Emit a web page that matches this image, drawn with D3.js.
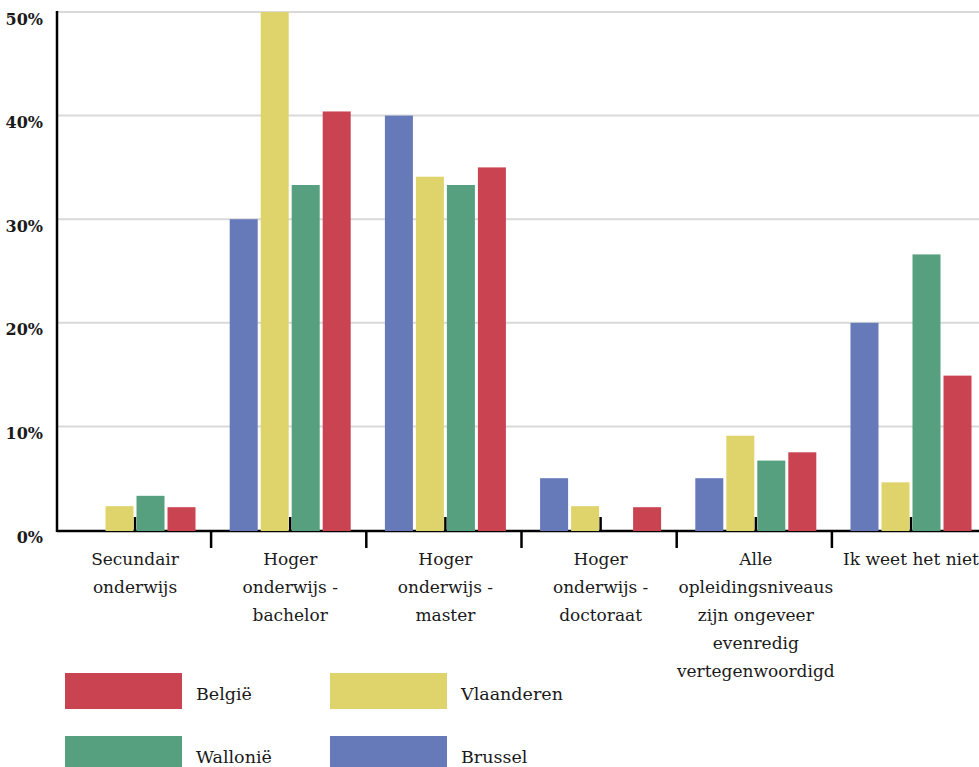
<!DOCTYPE html>
<html>
<head>
<meta charset="utf-8">
<script src="https://cdn.jsdelivr.net/npm/d3@7"></script>
<style>
  body { margin: 0; background: #fff; }
  svg text, svg tspan { font-family: "DejaVu Serif", serif; fill: #1a1a1a; }
</style>
</head>
<body>
<div id="chart"></div>
<script>
var w = 979, h = 767;

// data
var categories = ["Secundair onderwijs", "Hoger onderwijs - bachelor", "Hoger onderwijs - master",
                  "Hoger onderwijs - doctoraat", "Alle opleidingsniveaus zijn ongeveer evenredig vertegenwoordigd",
                  "Ik weet het niet"];
var categoryLines = [["Secundair", "onderwijs"],
                     ["Hoger", "onderwijs -", "bachelor"],
                     ["Hoger", "onderwijs -", "master"],
                     ["Hoger", "onderwijs -", "doctoraat"],
                     ["Alle", "opleidingsniveaus", "zijn ongeveer", "evenredig", "vertegenwoordigd"],
                     ["Ik weet het niet"]];
var series = ["Brussel", "Vlaanderen", "Wallonië", "België"];
var brussel    = [0,    30,   40,   5,   5,   20];
var vlaanderen = [2.3,  50,   34.1, 2.3, 9.1, 4.6];
var wallonie   = [3.3,  33.3, 33.3, 0,   6.7, 26.6];
var belgie     = [2.2,  40.4, 35.0, 2.2, 7.5, 14.9];
var yTicks = [0, 10, 20, 30, 40, 50];
var legendOrder = ["België", "Vlaanderen", "Wallonië", "Brussel"];

var values = {"Brussel": brussel, "Vlaanderen": vlaanderen, "Wallonië": wallonie, "België": belgie};
var color = d3.scaleOrdinal()
              .domain(series)
              .range(["#6679b8", "#dfd46c", "#569f7f", "#c94350"]);

var pad = {top: 12, left: 57, bottom: 530};
var serif = "DejaVu Serif, serif";

var svg = d3.select("#chart").append("svg")
            .attr("width", w)
            .attr("height", h);

//Scales
var x0 = d3.scaleBand()
           .domain(categories)
           .range([pad.left + 0.4, pad.left + 0.4 + 6 * 155.2]);
var x1 = d3.scaleBand()
           .domain(series)
           .range([-60.5, 60.5])
           .paddingInner(0.097);
var y = d3.scaleLinear()
          .domain([0, 50])
          .range([pad.bottom, pad.top]);

//Gridlines
svg.append("g")
   .selectAll("line")
   .data(yTicks.filter(function(d) {return d > 0;}))
   .enter()
   .append("line")
   .attr("x1", pad.left)
   .attr("x2", w)
   .attr("y1", function(d) {return y(d);})
   .attr("y2", function(d) {return y(d);})
   .attr("stroke", "#d9d9d9")
   .attr("stroke-width", 2);

//Y tick labels
svg.append("g")
   .selectAll("text")
   .data(yTicks)
   .enter()
   .append("text")
   .attr("x", 43)
   .attr("y", function(d) {return y(d) + 7;})
   .attr("text-anchor", "end")
   .attr("dominant-baseline", "central")
   .attr("font-family", serif)
   .attr("font-size", "16px")
   .attr("font-weight", "bold")
   .text(function(d) {return d + "%";});

//Axis lines
svg.append("line")
   .attr("x1", pad.left)
   .attr("x2", w)
   .attr("y1", pad.bottom + 1)
   .attr("y2", pad.bottom + 1)
   .attr("stroke", "#000")
   .attr("stroke-width", 2.5);
svg.append("line")
   .attr("x1", pad.left)
   .attr("x2", pad.left)
   .attr("y1", pad.top - 1)
   .attr("y2", pad.bottom + 2)
   .attr("stroke", "#000")
   .attr("stroke-width", 2.5);

//Category ticks: short ones at the centre, longer separators below
svg.append("g")
   .selectAll("line")
   .data(categories)
   .enter()
   .append("line")
   .attr("x1", function(d) {return x0(d) + x0.bandwidth() / 2;})
   .attr("x2", function(d) {return x0(d) + x0.bandwidth() / 2;})
   .attr("y1", pad.bottom - 13)
   .attr("y2", pad.bottom)
   .attr("stroke", "#000")
   .attr("stroke-width", 2.5);
svg.append("g")
   .selectAll("line")
   .data(categories.slice(1))
   .enter()
   .append("line")
   .attr("x1", function(d) {return x0(d) - 1.5;})
   .attr("x2", function(d) {return x0(d) - 1.5;})
   .attr("y1", pad.bottom)
   .attr("y2", pad.bottom + 18)
   .attr("stroke", "#000")
   .attr("stroke-width", 2.5);

//Bars
var groups = svg.append("g")
   .selectAll("g")
   .data(categories)
   .enter()
   .append("g")
   .attr("transform", function(d) {return "translate(" + (x0(d) + x0.bandwidth() / 2) + ",0)";});
groups.selectAll("rect")
   .data(function(d, i) {
       return series.map(function(s) {return {s: s, v: values[s][i]};})
                    .filter(function(e) {return e.v > 0;});
   })
   .enter()
   .append("rect")
   .attr("x", function(d) {return x1(d.s);})
   .attr("width", x1.bandwidth())
   .attr("y", function(d) {return y(d.v);})
   .attr("height", function(d) {return y(0) - y(d.v) + 1;})
   .attr("fill", function(d) {return color(d.s);});

//Category labels
var labels = svg.append("g")
   .selectAll("text")
   .data(categories)
   .enter()
   .append("text")
   .attr("text-anchor", "middle")
   .attr("font-family", serif)
   .attr("font-size", "17px")
   .attr("x", function(d) {return x0(d) + x0.bandwidth() / 2;})
   .attr("y", 559)
   .attr("dominant-baseline", "central");
labels.selectAll("tspan")
   .data(function(d, i) {return categoryLines[i];})
   .enter()
   .append("tspan")
   .attr("x", function() {return d3.select(this.parentNode).attr("x");})
   .attr("dy", function(d, i) {return i === 0 ? 0 : 28;})
   .text(function(d) {return d;});

//Legend
var legend = svg.append("g")
   .selectAll("g")
   .data(legendOrder)
   .enter()
   .append("g")
   .attr("transform", function(d, i) {
       return "translate(" + (65 + (i % 2) * 265) + "," + (673 + Math.floor(i / 2) * 63) + ")";
   });
legend.append("rect")
   .attr("width", 117)
   .attr("height", 36)
   .attr("fill", function(d) {return color(d);});
legend.append("text")
   .attr("x", 131)
   .attr("y", 21)
   .attr("dominant-baseline", "central")
   .attr("font-family", serif)
   .attr("font-size", "17.5px")
   .text(function(d) {return d;});
</script>
</body>
</html>
